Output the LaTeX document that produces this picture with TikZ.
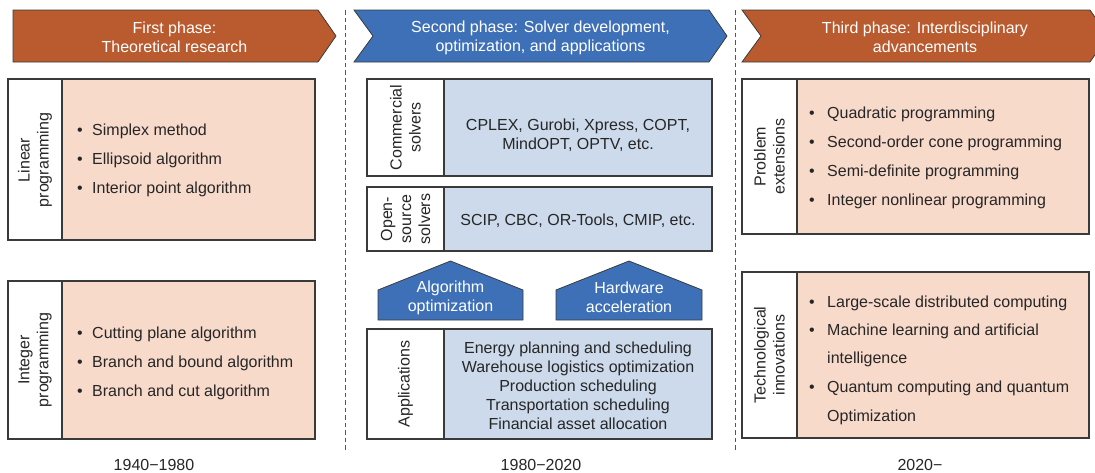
\documentclass[tikz,border=0pt]{standalone}
\usepackage{fontspec}
\setmainfont{Liberation Sans}
\definecolor{orangeC}{HTML}{B95B2E}
\definecolor{blueC}{HTML}{3E70B8}
\definecolor{pinkC}{HTML}{F8DACB}
\definecolor{lblueC}{HTML}{CCDAEB}
\definecolor{lineC}{HTML}{3A3A3A}
\definecolor{txtC}{HTML}{262626}
\definecolor{dashC}{HTML}{555555}
\tikzset{
  base/.style={font=\fontsize{16}{19}\selectfont, text=txtC, inner sep=0pt, yshift=-1.5pt},
  hdr/.style={base, text=white, align=center},
  lab/.style={base, yshift=1.5pt, rotate=90, align=center},
  itm/.style={base, anchor=west},
  bul/.style={base},
  cnt/.style={base, align=center},
  phase/.style={draw=lineC, line width=0.8pt},
  box/.style={draw=lineC, line width=1.2pt},
  sep/.style={dashC, line width=1pt, dash pattern=on 4.5pt off 3pt},
}
\begin{document}
\begin{tikzpicture}[x=1pt,y=-1pt]
\useasboundingbox (0,0) rectangle (1095,472);
\clip (0,0) rectangle (1095,472);

% separators
\coordinate (s1t) at (345,10); \coordinate (s1b) at (345,452);
\coordinate (s2t) at (735,10); \coordinate (s2b) at (735,452);
\draw[sep] (s1t) -- (s1b);
\draw[sep] (s2t) -- (s2b);

% phase arrows
\draw[phase, fill=orangeC] (13,10) -- (318,10) -- (336,36) -- (318,62) -- (13,62) -- cycle;
\node[hdr] (ph1) at (174.5,36) {First phase:\\Theoretical research};
\draw[phase, fill=blueC] (354,10) -- (709,10) -- (727,36) -- (709,62) -- (354,62) -- (373,36) -- cycle;
\node[hdr] (ph2) at (540.5,36) {Second phase: Solver development,\\optimization, and applications};
\draw[phase, fill=orangeC] (742,10) -- (1090,10) -- (1108,36) -- (1090,62) -- (742,62) -- (761,36) -- cycle;
\node[hdr] (ph3) at (925,36) {Third phase: Interdisciplinary\\advancements};

% ---- first column
\draw[box, fill=white] (8,79) rectangle (62,240);
\draw[box, fill=pinkC] (62,79) rectangle (315,240);
\node[lab] (lpl) at (35,160) {Linear\\programming};
\node[bul] (lb1) at (80,130) {•}; \node[itm] (li1) at (92,130) {Simplex method};
\node[bul] (lb2) at (80,159) {•}; \node[itm] (li2) at (92,159) {Ellipsoid algorithm};
\node[bul] (lb3) at (80,188) {•}; \node[itm] (li3) at (92,188) {Interior point algorithm};

\draw[box, fill=white] (8,281) rectangle (62,439);
\draw[box, fill=pinkC] (62,281) rectangle (315,439);
\node[lab] (ipl) at (35,360) {Integer\\programming};
\node[bul] (ib1) at (80,333) {•}; \node[itm] (ii1) at (92,333) {Cutting plane algorithm};
\node[bul] (ib2) at (80,362) {•}; \node[itm] (ii2) at (92,362) {Branch and bound algorithm};
\node[bul] (ib3) at (80,391) {•}; \node[itm] (ii3) at (92,391) {Branch and cut algorithm};

\node[base] (y1) at (154,463) {1940−1980};

% ---- second column
\draw[box, fill=white] (367,79) rectangle (444,176);
\draw[box, fill=lblueC] (444,79) rectangle (712,176);
\node[lab] (csl) at (405.5,127.5) {Commercial\\solvers};
\node[cnt] (cst) at (578,134) {CPLEX, Gurobi, Xpress, COPT,\\MindOPT, OPTV, etc.};

\draw[box, fill=white] (367,187) rectangle (444,251);
\draw[box, fill=lblueC] (444,187) rectangle (712,251);
\node[lab] (osl) at (405.5,219) {Open-\\source\\solvers};
\node[cnt] (ost) at (578,219) {SCIP, CBC, OR-Tools, CMIP, etc.};

\draw[phase, fill=blueC] (378,290) -- (450.5,261) -- (523,290) -- (523,320) -- (378,320) -- cycle;
\node[hdr] (ao) at (450.5,296) {Algorithm\\optimization};
\draw[phase, fill=blueC] (556,290) -- (629,261) -- (702,290) -- (702,320) -- (556,320) -- cycle;
\node[hdr] (ha) at (629,296) {Hardware\\acceleration};

\draw[box, fill=white] (367,329) rectangle (444,439);
\draw[box, fill=lblueC] (444,329) rectangle (712,439);
\node[lab] (apl) at (405.5,384) {Applications};
\node[cnt] (apt) at (578,384) {Energy planning and scheduling\\Warehouse logistics optimization\\Production scheduling\\Transportation scheduling\\Financial asset allocation};

\node[base] (y2) at (541,463) {1980−2020};

% ---- third column
\draw[box, fill=white] (742,79) rectangle (797,234);
\draw[box, fill=pinkC] (797,79) rectangle (1089,234);
\node[lab] (pel) at (769.5,156.5) {Problem\\extensions};
\node[bul] (pb1) at (812,113) {•}; \node[itm] (pi1) at (827,113) {Quadratic programming};
\node[bul] (pb2) at (812,142) {•}; \node[itm] (pi2) at (827,142) {Second-order cone programming};
\node[bul] (pb3) at (812,171) {•}; \node[itm] (pi3) at (827,171) {Semi-definite programming};
\node[bul] (pb4) at (812,200) {•}; \node[itm] (pi4) at (827,200) {Integer nonlinear programming};

\draw[box, fill=white] (742,272) rectangle (797,438);
\draw[box, fill=pinkC] (797,272) rectangle (1089,438);
\node[lab] (til) at (769.5,355) {Technological\\innovations};
\node[bul] (tb1) at (812,302) {•}; \node[itm] (ti1) at (827,302) {Large-scale distributed computing};
\node[bul] (tb2) at (812,330) {•}; \node[itm] (ti2) at (827,330) {Machine learning and artificial};
\node[itm] (ti2b) at (827,358) {intelligence};
\node[bul] (tb3) at (812,387) {•}; \node[itm] (ti3) at (827,387) {Quantum computing and quantum};
\node[itm] (ti3b) at (827,416) {Optimization};

\node[base] (y3) at (920,463) {2020−};
\end{tikzpicture}
\end{document}
